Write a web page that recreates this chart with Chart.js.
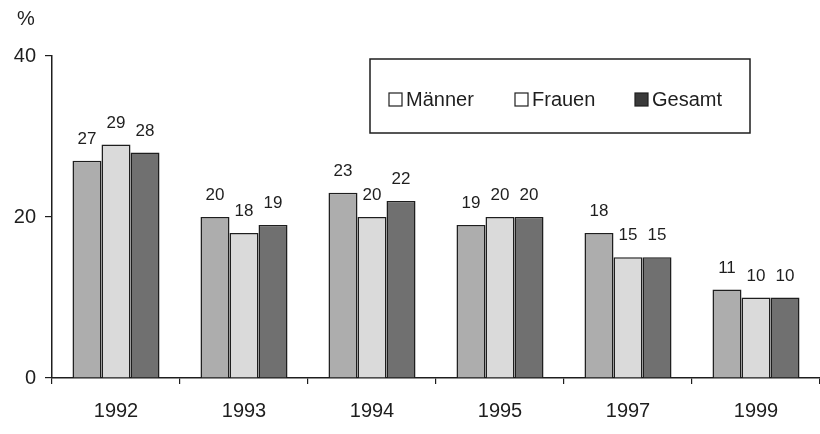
<!DOCTYPE html>
<html>
<head>
<meta charset="utf-8">
<script src="https://cdn.jsdelivr.net/npm/chart.js@4/dist/chart.umd.min.js"></script>
<style>
  html, body { margin: 0; padding: 0; background: #fff; }
  #wrap { width: 820px; height: 434px; }
</style>
</head>
<body>
<div id="wrap"><canvas id="c" width="820" height="434"></canvas></div>
<script>
// Erhebungsjahre und Anteile in Prozent
const years = ['1992', '1993', '1994', '1995', '1997', '1999'];
const maenner = [27, 20, 23, 19, 18, 11];
const frauen  = [29, 18, 20, 20, 15, 10];
const gesamt  = [28, 19, 22, 20, 15, 10];
const yTicks = [0, 20, 40];

const FONT = '"Liberation Sans", Arial, sans-serif';
const INK = '#1e1e1e';

// Werte über den Balken
const valueLabels = {
  id: 'valueLabels',
  afterDatasetsDraw(chart) {
    const ctx = chart.ctx;
    ctx.save();
    ctx.font = '17px ' + FONT;
    ctx.fillStyle = INK;
    ctx.textAlign = 'center';
    ctx.textBaseline = 'bottom';
    chart.data.datasets.forEach((ds, i) => {
      chart.getDatasetMeta(i).data.forEach((bar, j) => {
        ctx.fillText(String(ds.data[j]), bar.x, bar.y - 13);
      });
    });
    ctx.restore();
  }
};

// Einheit oben links und eingerahmte Legende
const frame = {
  id: 'frame',
  afterDraw(chart) {
    const ctx = chart.ctx;
    ctx.save();
    ctx.font = '20px ' + FONT;
    ctx.fillStyle = INK;
    ctx.textAlign = 'left';
    ctx.textBaseline = 'middle';
    ctx.fillText('%', 17, 19);

    // Legendenrahmen
    ctx.strokeStyle = INK;
    ctx.lineWidth = 1.5;
    ctx.strokeRect(370, 59, 380, 74);

    const items = [
      { x: 389, fill: '#ffffff' },
      { x: 515, fill: '#ffffff' },
      { x: 635, fill: '#3a3a3a' }
    ];
    ctx.font = '20px ' + FONT;
    chart.data.datasets.forEach((ds, i) => {
      const it = items[i];
      ctx.fillStyle = it.fill;
      ctx.fillRect(it.x, 93, 13, 13);
      ctx.lineWidth = 1.2;
      ctx.strokeStyle = INK;
      ctx.strokeRect(it.x, 93, 13, 13);
      ctx.fillStyle = INK;
      ctx.fillText(ds.label, it.x + 17, 100);
    });
    ctx.restore();
  }
};

const barStyle = {
  borderColor: INK,
  borderWidth: 1.5,
  borderSkipped: 'bottom',
  categoryPercentage: 0.68,
  barPercentage: 1.0
};

new Chart(document.getElementById('c'), {
  type: 'bar',
  data: {
    labels: years,
    datasets: [
      Object.assign({ label: 'Männer', data: maenner, backgroundColor: '#adadad' }, barStyle),
      Object.assign({ label: 'Frauen', data: frauen,  backgroundColor: '#dadada' }, barStyle),
      Object.assign({ label: 'Gesamt', data: gesamt,  backgroundColor: '#707070' }, barStyle)
    ]
  },
  options: {
    responsive: false,
    animation: false,
    devicePixelRatio: 1,
    layout: { padding: { top: 56, right: 0, bottom: 0, left: 0 } },
    plugins: {
      legend: { display: false },
      tooltip: { enabled: false }
    },
    scales: {
      x: {
        offset: true,
        grid: { display: true, drawOnChartArea: false, offset: true, color: INK, lineWidth: 1.2, tickLength: 6 },
        border: { display: true, color: INK, width: 1.5 },
        ticks: { color: INK, font: { family: FONT, size: 20 }, padding: 15 },
        afterFit(scale) { scale.height = 56; }
      },
      y: {
        min: 0,
        max: 40,
        afterBuildTicks(scale) { scale.ticks = yTicks.map(v => ({ value: v })); },
        grid: { display: true, drawOnChartArea: false, color: INK, lineWidth: 1.2, tickLength: 7 },
        border: { display: true, color: INK, width: 1.5 },
        ticks: { color: INK, font: { family: FONT, size: 20 }, padding: 9 },
        afterFit(scale) { scale.width = 52; }
      }
    }
  },
  plugins: [valueLabels, frame]
});
</script>
</body>
</html>
